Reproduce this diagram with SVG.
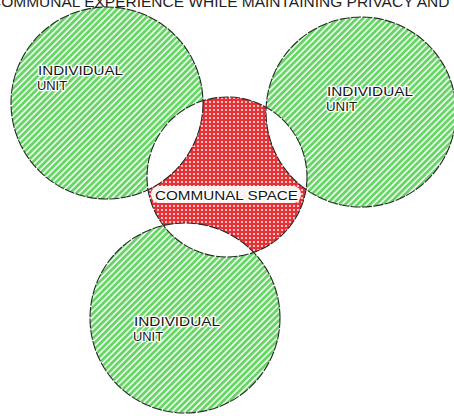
<svg xmlns="http://www.w3.org/2000/svg" width="454" height="416" viewBox="0 0 454 416">
<style>
.lbl{font-family:"Liberation Sans","DejaVu Sans",sans-serif;font-size:12.5px;fill:#141414;stroke:#fff;stroke-width:2.5;paint-order:stroke;stroke-linejoin:round}
.edge{fill:none;stroke:#262626;stroke-width:1.1;stroke-dasharray:10 1.5}
</style>
<defs>
<pattern id="hatch" width="4.4" height="4.4" patternUnits="userSpaceOnUse" patternTransform="rotate(45)">
<rect width="4.4" height="4.4" fill="#f4fff4"/>
<rect width="2.8" height="4.4" fill="#66d566"/>
</pattern>
<pattern id="dots" width="4" height="4" patternUnits="userSpaceOnUse">
<rect width="4" height="4" fill="#e63236"/>
<circle cx="2" cy="2" r="0.95" fill="#fff"/>
</pattern>
<clipPath id="centralClip"><circle cx="227" cy="177" r="80"/></clipPath>
<mask id="redMask">
<rect width="454" height="416" fill="#fff"/>
<circle cx="107" cy="103" r="96" fill="#000"/>
<circle cx="361" cy="112" r="95" fill="#000"/>
<circle cx="185" cy="318" r="95" fill="#000"/>
</mask>
</defs>
<rect width="454" height="416" fill="#fff"/>
<text x="-10" y="6.5" textLength="468" lengthAdjust="spacingAndGlyphs" style="font-family:'Liberation Sans',sans-serif;font-size:15px;fill:#1e1e1e">COMMUNAL EXPERIENCE WHILE MAINTAINING PRIVACY AND I</text>
<g id="unit-top-left">
<circle cx="107" cy="103" r="96" fill="url(#hatch)"/>
<circle class="edge" cx="107" cy="103" r="96"/>
</g>
<g id="unit-top-right">
<circle cx="361" cy="112" r="95" fill="url(#hatch)"/>
<circle class="edge" cx="361" cy="112" r="95"/>
</g>
<g id="unit-bottom">
<circle cx="185" cy="318" r="95" fill="url(#hatch)"/>
<circle class="edge" cx="185" cy="318" r="95"/>
</g>
<g id="communal-space">
<circle cx="227" cy="177" r="80" fill="#fff"/>
<circle cx="227" cy="177" r="80" fill="url(#dots)" mask="url(#redMask)"/>
<g clip-path="url(#centralClip)">
<circle class="edge" cx="107" cy="103" r="96"/>
<circle class="edge" cx="361" cy="112" r="95"/>
<circle class="edge" cx="185" cy="318" r="95"/>
</g>
<circle class="edge" cx="227" cy="177" r="80"/>
<rect x="151" y="186" width="150" height="17" rx="8" fill="#fff" opacity="0.92"/>
<text class="lbl" x="155" y="199.5" textLength="143" lengthAdjust="spacingAndGlyphs">COMMUNAL SPACE</text>
</g>
<g id="labels">
<text class="lbl" x="38" y="75" textLength="85" lengthAdjust="spacingAndGlyphs">INDIVIDUAL</text>
<text class="lbl" x="37" y="90" textLength="30" lengthAdjust="spacingAndGlyphs">UNIT</text>
<text class="lbl" x="327" y="96" textLength="86" lengthAdjust="spacingAndGlyphs">INDIVIDUAL</text>
<text class="lbl" x="326" y="111" textLength="31" lengthAdjust="spacingAndGlyphs">UNIT</text>
<text class="lbl" x="134" y="326" textLength="86" lengthAdjust="spacingAndGlyphs">INDIVIDUAL</text>
<text class="lbl" x="133" y="341" textLength="30" lengthAdjust="spacingAndGlyphs">UNIT</text>
</g>
</svg>
